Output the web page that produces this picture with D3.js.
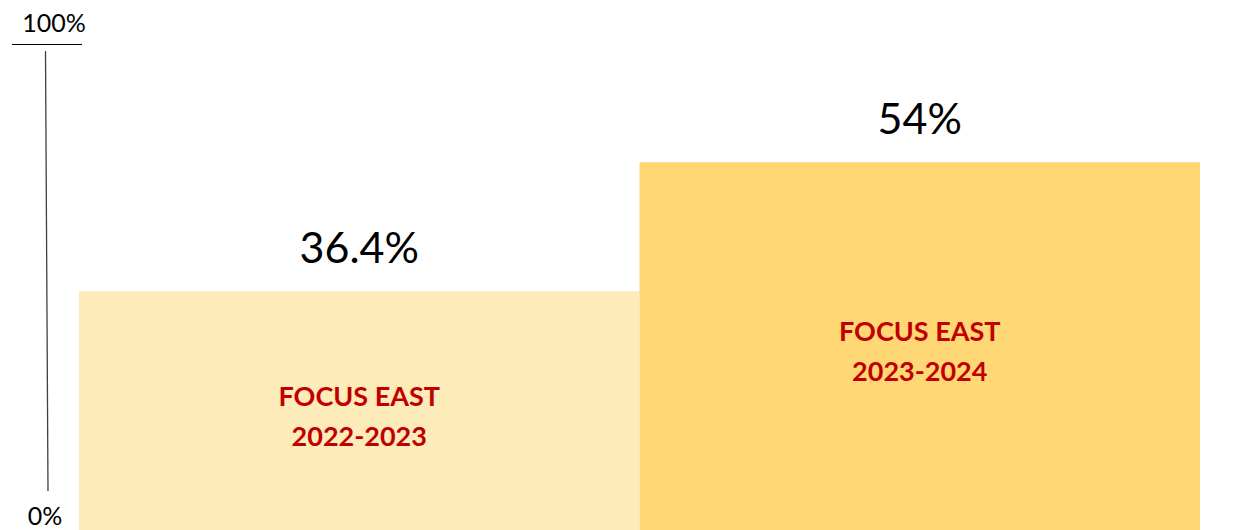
<!DOCTYPE html>
<html lang="en">
<head>
    <meta charset="UTF-8">
    <title>Focus East</title>
    <style>
        body { margin: 0; background: #fff; }
        svg { display: block; }
    </style>
</head>
<body>
<svg></svg>
<script src="https://d3js.org/d3.v7.min.js"></script>
<script>
    var categories = ["FOCUS EAST\n2022-2023", "FOCUS EAST\n2023-2024"];
    var values = [36.4, 54];
    var valueLabels = ["36.4%", "54%"];
    var barColors = ["#FEEBBA", "#FFD775"];
    var tickLabels = ["0%", "100%"];

    var width = 1238;
    var height = 530;

    var svg = d3.select("svg")
        .attr("width", width)
        .attr("height", height);

    var xScale = d3.scaleBand().domain(categories).range([79, 1200]).padding(0);
    var yScale = d3.scaleLinear().domain([0, 100]).range([558, -175]);

    // bars
    svg.selectAll("rect.bar")
        .data(values)
        .enter().append("rect")
        .attr("class", "bar")
        .attr("x", function (d, i) { return xScale(categories[i]); })
        .attr("y", function (d) { return yScale(d); })
        .attr("width", xScale.bandwidth())
        .attr("height", function (d) { return yScale(0) - yScale(d); })
        .style("fill", function (d, i) { return barColors[i]; });

    // value labels above bars
    svg.selectAll("text.value")
        .data(values)
        .enter().append("text")
        .attr("class", "value")
        .attr("x", function (d, i) { return xScale(categories[i]) + xScale.bandwidth() / 2; })
        .attr("y", function (d) { return yScale(d) - 28; })
        .style("text-anchor", "middle")
        .style("font-family", "Lato, sans-serif")
        .style("font-size", "43px")
        .style("fill", "#000")
        .text(function (d, i) { return valueLabels[i]; });

    // category labels inside bars
    var cat = svg.selectAll("text.cat")
        .data(values)
        .enter().append("text")
        .attr("class", "cat")
        .attr("x", function (d, i) { return xScale(categories[i]) + xScale.bandwidth() / 2; })
        .attr("y", function (d) { return (yScale(d) + height) / 2 - 5; })
        .style("text-anchor", "middle")
        .style("font-family", "Lato, sans-serif")
        .style("font-weight", "bold")
        .style("font-size", "27px")
        .style("fill", "#C00000");

    cat.each(function (d, i) {
        var lines = categories[i].split("\n");
        var t = d3.select(this);
        lines.forEach(function (l, j) {
            t.append("tspan")
                .attr("x", t.attr("x"))
                .attr("dy", j === 0 ? "0" : "40")
                .text(l);
        });
    });

    // axis decoration
    svg.append("line")
        .attr("x1", 12).attr("x2", 82)
        .attr("y1", 44.5).attr("y2", 44.5)
        .style("stroke", "#000").style("stroke-width", 1);

    svg.append("line")
        .attr("x1", 45.5).attr("y1", 51)
        .attr("x2", 48).attr("y2", 491)
        .style("stroke", "#404040").style("stroke-width", 1.3);

    svg.append("text")
        .attr("x", 54).attr("y", 32)
        .style("text-anchor", "middle")
        .style("font-family", "Lato, sans-serif")
        .style("font-size", "25px")
        .text(tickLabels[1]);

    svg.append("text")
        .attr("x", 45).attr("y", 525)
        .style("text-anchor", "middle")
        .style("font-family", "Lato, sans-serif")
        .style("font-size", "25px")
        .text(tickLabels[0]);
</script>
</body>
</html>
